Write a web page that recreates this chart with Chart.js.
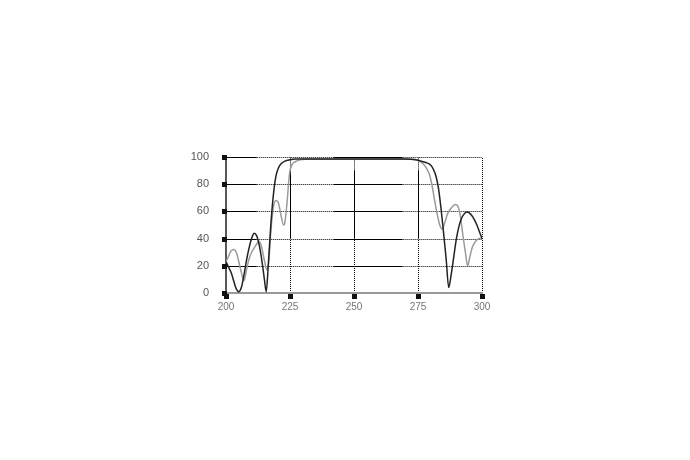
<!DOCTYPE html>
<html>
<head>
<meta charset="utf-8">
<script src="https://cdn.jsdelivr.net/npm/chart.js@4/dist/chart.umd.min.js"></script>
<style>
  body { margin: 0; background: #fff; }
  canvas { display: block; }
</style>
</head>
<body>
<canvas id="chart" width="690" height="460"></canvas>
<script>
// values
var xTicks = [200, 225, 250, 275, 300];
var yTicks = [0, 20, 40, 60, 80, 100];

var darkX = [200, 201, 202, 203, 204, 205, 206, 207, 208, 209, 210, 211, 212, 213, 214, 215, 215.7,
  216.5, 217.5, 218.5, 219.5, 220.5, 221.5, 223, 225, 227, 250, 270, 274, 276, 278, 280, 281, 282,
  283, 284, 285, 286, 287, 288, 289, 290, 291, 292, 293, 294, 295, 296, 297, 298, 299, 300];
var darkY = [23, 19, 15, 9, 3, 1, 4, 13, 24, 33, 40, 44, 42, 35, 24, 10, 1,
  20, 50, 72, 86, 92, 95, 97, 98, 98.5, 98.5, 98.5, 98, 97, 96, 94, 91, 86,
  77, 62, 44, 25, 4, 14, 27, 40, 49, 55, 58, 59.5, 59, 57, 54, 50, 45, 40];

var greyX = [200, 201, 202, 203, 204, 205, 206, 207, 208, 209, 210, 211, 212, 213, 214, 215, 216,
  216.8, 217.5, 218.5, 219.5, 220.5, 221.5, 222.5, 223, 224, 224.5, 225, 226, 227, 229, 231, 250,
  273, 275, 277, 278.5, 279.5, 280.5, 281.5, 282.5, 283.5, 284.5, 285.5, 286.5, 288, 289.5, 290.5,
  291.5, 292.5, 293.5, 294.4, 295.3, 296.3, 297.5, 299, 300];
var greyY = [23, 27, 31, 32, 30, 23, 15, 9, 17, 25, 30, 33, 36, 38, 33, 24, 17,
  25, 45, 63, 68, 66, 57, 50, 52, 70, 82, 90, 95, 96.5, 98, 98.3, 98.3,
  98.3, 97.5, 95, 91, 87, 79, 68, 58, 50, 47, 52, 58, 62.5, 65, 64,
  57, 43, 30, 20, 27, 34, 38, 40, 40];

function toPoints(xs, ys) {
  return xs.map(function (x, i) { return { x: x, y: ys[i] }; });
}

// the printed grid is partly solid, partly dotted
var hSolid = [[200, 212], [242, 269]];
var vSolid = [[40, 90]];

function segLine(ctx, pieces, drawPiece) {
  pieces.forEach(function (p) {
    ctx.setLineDash(p.solid ? [] : [1, 1]);
    drawPiece(p.a, p.b);
  });
}

function split(from, to, solids) {
  var out = [];
  var cur = from;
  solids.forEach(function (s) {
    if (s[0] > cur) out.push({ a: cur, b: s[0], solid: false });
    out.push({ a: s[0], b: s[1], solid: true });
    cur = s[1];
  });
  if (cur < to) out.push({ a: cur, b: to, solid: false });
  return out;
}

var paperGrid = {
  id: 'paperGrid',
  beforeDatasetsDraw: function (chart) {
    var ctx = chart.ctx, a = chart.chartArea, x = chart.scales.x, y = chart.scales.y;
    ctx.save();
    ctx.strokeStyle = '#000';
    ctx.lineWidth = 1;
    yTicks.forEach(function (t) {
      if (t === 0) return;
      var py = Math.round(y.getPixelForValue(t)) + 0.5;
      segLine(ctx, split(200, 300, hSolid), function (v1, v2) {
        ctx.beginPath();
        ctx.moveTo(x.getPixelForValue(v1), py);
        ctx.lineTo(x.getPixelForValue(v2), py);
        ctx.stroke();
      });
    });
    xTicks.forEach(function (t) {
      if (t === 200) return;
      var px = Math.round(x.getPixelForValue(t)) + 0.5;
      var pieces = t === 300 ? [{ a: 0, b: 100, solid: false }] : split(0, 100, vSolid);
      segLine(ctx, pieces, function (v1, v2) {
        ctx.beginPath();
        ctx.moveTo(px, y.getPixelForValue(v1));
        ctx.lineTo(px, y.getPixelForValue(v2));
        ctx.stroke();
      });
    });
    ctx.setLineDash([]);
    // axes
    ctx.strokeStyle = '#999';
    ctx.lineWidth = 2;
    ctx.beginPath();
    ctx.moveTo(a.left, a.bottom);
    ctx.lineTo(a.right + 1, a.bottom);
    ctx.stroke();
    ctx.strokeStyle = '#222';
    ctx.lineWidth = 1.5;
    ctx.beginPath();
    ctx.moveTo(a.left, a.top);
    ctx.lineTo(a.left, a.bottom);
    ctx.stroke();
    ctx.restore();
  },
  afterDatasetsDraw: function (chart) {
    var ctx = chart.ctx, a = chart.chartArea, x = chart.scales.x, y = chart.scales.y;
    ctx.save();
    ctx.fillStyle = '#111';
    yTicks.forEach(function (t) {
      var py = Math.round(y.getPixelForValue(t));
      ctx.fillRect(a.left - 4, py - 2, 5, 5);
    });
    xTicks.forEach(function (t) {
      var px = Math.round(x.getPixelForValue(t));
      ctx.fillRect(px - 2, a.bottom + 1, 5, 5);
    });
    ctx.restore();
  }
};

new Chart(document.getElementById('chart'), {
  type: 'line',
  data: {
    datasets: [{
      label: 'dark',
      data: toPoints(darkX, darkY),
      borderColor: '#222',
      borderWidth: 1.5,
      pointRadius: 0,
      cubicInterpolationMode: 'monotone'
    }, {
      label: 'grey',
      data: toPoints(greyX, greyY),
      borderColor: '#9a9a9a',
      borderWidth: 1.5,
      pointRadius: 0,
      cubicInterpolationMode: 'monotone'
    }]
  },
  options: {
    responsive: false,
    animation: false,
    layout: { padding: { left: 170, top: 157, right: 208, bottom: 137 } },
    plugins: { legend: { display: false }, tooltip: { enabled: false } },
    scales: {
      x: {
        type: 'linear',
        min: 200, max: 300,
        grid: { display: false },
        border: { display: false },
        afterBuildTicks: function (s) { s.ticks = xTicks.map(function (v) { return { value: v }; }); },
        afterFit: function (s) { s.height = 30; },
        ticks: {
          padding: 0,
          color: '#777',
          maxRotation: 0,
          font: { family: 'Liberation Sans, Arial, sans-serif', size: 10 }
        }
      },
      y: {
        min: 0, max: 100,
        grid: { display: false },
        border: { display: false },
        afterBuildTicks: function (s) { s.ticks = yTicks.map(function (v) { return { value: v }; }); },
        afterFit: function (s) { s.width = 56; },
        ticks: {
          padding: 9,
          color: '#555',
          font: { family: 'Liberation Sans, Arial, sans-serif', size: 11 }
        }
      }
    }
  },
  plugins: [paperGrid]
});
</script>
</body>
</html>
